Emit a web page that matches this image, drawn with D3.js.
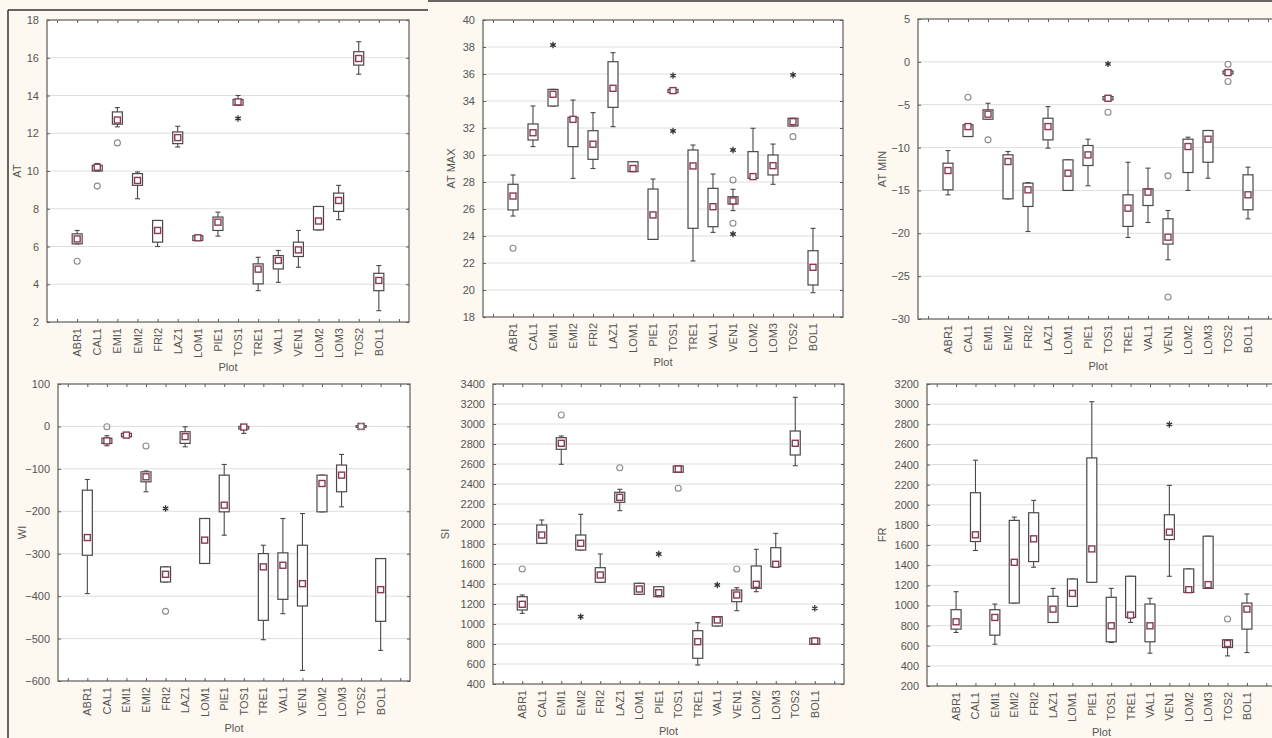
<!DOCTYPE html>
<html><head><meta charset="utf-8">
<script src="https://cdn.jsdelivr.net/npm/d3@7"></script>
<style>
body{margin:0;background:#fdf9f0;}
svg{display:block;}
text{font-family:"Liberation Sans",Arial,sans-serif;}
</style>
</head><body>
<svg id="chart" width="1272" height="738"></svg>
<script>
// ---------- DATA ----------
const plots = ["ABR1","CAL1","EMI1","EMI2","FRI2","LAZ1","LOM1","PIE1","TOS1","TRE1","VAL1","VEN1","LOM2","LOM3","TOS2","BOL1"];

// Panel: AT
const atMed = [6.4,10.2,12.7,9.5,6.85,11.77,6.46,7.29,13.66,4.8,5.26,5.82,7.35,8.44,15.96,4.2];
const atQ1  = [6.14,10.0,12.48,9.24,6.23,11.45,6.32,6.85,13.49,4.02,4.81,5.47,6.88,7.86,15.61,3.66];
const atQ3  = [6.67,10.3,13.13,9.86,7.38,12.07,6.57,7.56,13.79,5.08,5.52,6.23,8.12,8.83,16.32,4.58];
const atLo  = [6.14,10.0,12.34,8.53,6.0,11.27,6.32,6.55,13.49,3.66,4.1,4.9,6.88,7.42,15.13,2.6];
const atHi  = [6.85,10.4,13.36,9.95,7.38,12.37,6.57,7.82,14.0,5.43,5.79,6.85,8.12,9.24,16.85,4.99];
const atOut = [[0,5.22],[1,9.2],[2,11.49]];
const atExt = [[8,12.78]];
const atTicks = [2,4,6,8,10,12,14,16,18];

// Panel: AT MAX
const maxMed = [26.96,31.65,34.5,32.64,30.8,34.94,29.0,25.56,34.77,29.19,26.17,26.6,28.4,29.21,32.47,21.68];
const maxQ1  = [25.93,31.11,33.63,30.62,29.68,33.53,28.77,23.75,34.62,24.57,24.69,26.37,28.27,28.52,32.15,20.37];
const maxQ3  = [27.83,32.3,34.86,32.79,31.8,36.91,29.5,27.48,34.86,30.37,27.53,26.91,30.25,30.0,32.72,22.91];
const maxLo  = [25.48,30.62,33.63,28.27,29.0,32.1,28.77,23.75,34.62,22.15,24.27,25.88,28.27,27.83,32.15,19.8];
const maxHi  = [28.52,33.63,34.86,34.07,33.14,37.58,29.5,28.22,34.86,30.74,28.59,27.46,31.98,30.81,32.72,24.57];
const maxOut = [[0,23.09],[11,28.15],[11,24.94],[14,31.36]];
const maxExt = [[2,38.15],[8,35.88],[8,31.78],[11,30.37],[11,24.15],[14,35.93]];
const maxTicks = [18,20,22,24,26,28,30,32,34,36,38,40];

// Panel: AT MIN
const minMed = [-12.68,-7.55,-6.1,-11.63,-14.93,-7.55,-12.99,-10.85,-4.25,-17.07,-15.2,-20.45,-9.88,-9.02,-1.25,-15.51];
const minQ1  = [-14.93,-8.71,-6.69,-15.98,-16.87,-9.1,-15.0,-12.09,-4.44,-19.2,-16.76,-21.26,-12.91,-11.71,-1.41,-17.26];
const minQ3  = [-11.82,-7.35,-5.6,-10.85,-14.15,-6.58,-11.43,-9.76,-4.05,-15.51,-14.81,-18.31,-9.02,-8.01,-1.06,-13.18];
const minLo  = [-15.51,-8.71,-6.69,-15.98,-19.79,-10.07,-15.0,-14.46,-4.44,-20.49,-18.74,-23.09,-15.0,-13.57,-1.41,-18.31];
const minHi  = [-10.35,-7.35,-4.83,-10.46,-14.08,-5.22,-11.43,-9.02,-4.05,-11.71,-12.4,-17.34,-8.79,-8.01,-1.06,-12.29];
const minOut = [[1,-4.13],[2,-9.1],[8,-5.88],[11,-13.3],[11,-27.44],[14,-0.28],[14,-2.3]];
const minExt = [[8,-0.24]];
const minTicks = [-30,-25,-20,-15,-10,-5,0,5];

// Panel: WI
const wiMed = [-261.9,-34,-20.4,-118.7,-348.5,-24,-268,-185.6,-1.5,-331,-327.2,-370.5,-134.5,-114.8,0,-384.7];
const wiQ1  = [-303.6,-40,-24.3,-130.5,-366.6,-40,-323,-201.3,-6,-457,-407.5,-423.2,-201.3,-154,-2,-459.4];
const wiQ3  = [-150.2,-28,-16.4,-107,-331,-12.5,-217,-114.8,0,-299.7,-298,-280,-114.8,-91,2,-311.5];
const wiLo  = [-394,-45.6,-24.3,-154,-366.6,-48,-323,-256.4,-16.4,-502.7,-441.3,-575,-201.3,-189.5,-2,-527.8];
const wiHi  = [-125,-22,-16.4,-105,-331,-0.7,-217,-89.6,0,-280,-217,-205.3,-114.8,-66,2,-311.5];
const wiOut = [[1,-0.7],[3,-46],[4,-435.8],[14,0]];
const wiExt = [[4,-193.5]];
const wiTicks = [-600,-500,-400,-300,-200,-100,0,100];

// Panel: SI
const siMed = [1197,1890,2807,1807,1490,2267,1350,1313,2550,823,1040,1290,1397,1597,2807,830];
const siQ1  = [1140,1807,2747,1740,1417,2217,1297,1273,2517,657,980,1223,1357,1573,2690,797];
const siQ3  = [1273,1990,2863,1890,1563,2317,1407,1373,2580,933,1073,1340,1580,1763,2930,857];
const siLo  = [1107,1807,2597,1740,1417,2133,1297,1273,2517,590,980,1133,1323,1573,2583,797];
const siHi  = [1290,2040,2880,2097,1700,2347,1407,1373,2580,1013,1073,1363,1747,1907,3267,857];
const siOut = [[0,1550],[2,3090],[5,2563],[8,2357],[11,1550]];
const siExt = [[3,1073],[7,1700],[10,1390],[15,1157]];
const siTicks = [400,600,800,1000,1200,1400,1600,1800,2000,2200,2400,2600,2800,3000,3200,3400];

// Panel: FR
const frMed = [838,1702,881,1429,1662,964,1120,1562,798,904,798,1728,1157,1207,622,964];
const frQ1  = [765,1635,705,1024,1436,831,991,1230,639,881,639,1655,1130,1170,582,765];
const frQ3  = [958,2120,958,1845,1921,1091,1263,2466,1081,1290,1014,1901,1363,1688,659,1024];
const frLo  = [732,1546,615,1024,1380,831,991,1230,632,831,526,1290,1130,1170,499,532];
const frHi  = [1137,2443,1014,1878,2044,1170,1263,3024,1170,1290,1071,2193,1363,1688,659,1114];
const frOut = [[14,865]];
const frExt = [[11,2798]];
const frTicks = [200,400,600,800,1000,1200,1400,1600,1800,2000,2200,2400,2600,2800,3000,3200];

// ---------- LAYOUT ----------
const panels = [
  {yTitle:"AT",     med:atMed,  q1:atQ1,  q3:atQ3,  lo:atLo,  hi:atHi,  out:atOut,  ext:atExt,  ticks:atTicks,
   l:47,  r:409,  t:20,  b:322, ytx:17,  xtY:371},
  {yTitle:"AT MAX", med:maxMed, q1:maxQ1, q3:maxQ3, lo:maxLo, hi:maxHi, out:maxOut, ext:maxExt, ticks:maxTicks,
   l:483, r:843,  t:20,  b:317, ytx:451, xtY:366},
  {yTitle:"AT MIN", med:minMed, q1:minQ1, q3:minQ3, lo:minLo, hi:minHi, out:minOut, ext:minExt, ticks:minTicks,
   l:918, r:1278, t:19,  b:319, ytx:882, xtY:370},
  {yTitle:"WI",     med:wiMed,  q1:wiQ1,  q3:wiQ3,  lo:wiLo,  hi:wiHi,  out:wiOut,  ext:wiExt,  ticks:wiTicks,
   l:58,  r:410,  t:384, b:681, ytx:22,  xtY:732},
  {yTitle:"SI",     med:siMed,  q1:siQ1,  q3:siQ3,  lo:siLo,  hi:siHi,  out:siOut,  ext:siExt,  ticks:siTicks,
   l:493, r:844,  t:384, b:684, ytx:445, xtY:735},
  {yTitle:"FR",     med:frMed,  q1:frQ1,  q3:frQ3,  lo:frLo,  hi:frHi,  out:frOut,  ext:frExt,  ticks:frTicks,
   l:927, r:1276, t:384, b:686, ytx:882, xtY:736}
];

const svg = d3.select("#chart");
svg.append("rect").attr("width",1272).attr("height",738).attr("fill","#fdf9f0");

const axisCol = "#5c5c5c", textCol = "#555555", gridCol = "#dedede";
const boxCol = "#4e4649", medCol = "#8a3a55", outCol = "#8a8a8a", extCol = "#333";
const fs = 11;

panels.forEach(p => {
  const g = svg.append("g");
  const x = d3.scaleLinear().domain([-1.5, 16.5]).range([p.l, p.r]);
  const y = d3.scaleLinear().domain(d3.extent(p.ticks)).range([p.b, p.t]);

  g.append("rect").attr("x",p.l).attr("y",p.t).attr("width",p.r-p.l).attr("height",p.b-p.t).attr("fill","#fff");

  // gridlines
  g.selectAll(".grid").data(p.ticks.slice(1,-1)).join("line")
    .attr("x1",p.l).attr("x2",p.r).attr("y1",d=>y(d)).attr("y2",d=>y(d))
    .attr("stroke",gridCol).attr("stroke-width",1);

  // y axis (left) with labels, inward ticks
  const yAxis = d3.axisLeft(y).tickValues(p.ticks).tickSize(-3).tickPadding(8).tickFormat(d3.format("d"));
  const ya = g.append("g").attr("transform",`translate(${p.l},0)`).call(yAxis);
  ya.attr("font-family",null).attr("font-size",null);
  ya.select(".domain").remove();
  ya.selectAll("line").attr("stroke",axisCol);
  ya.selectAll("text").attr("fill",textCol).attr("font-size",fs);
  // right ticks
  const yr = g.append("g").attr("transform",`translate(${p.r},0)`).call(d3.axisRight(y).tickValues(p.ticks).tickSize(-3).tickFormat(""));
  yr.select(".domain").remove(); yr.selectAll("line").attr("stroke",axisCol);

  // x axis ticks at top and bottom
  const xt = d3.range(-1,17);
  const xb = g.append("g").attr("transform",`translate(0,${p.b})`).call(d3.axisBottom(x).tickValues(xt).tickSize(-3).tickFormat(""));
  xb.select(".domain").remove(); xb.selectAll("line").attr("stroke",axisCol);
  const xtp = g.append("g").attr("transform",`translate(0,${p.t})`).call(d3.axisTop(x).tickValues(xt).tickSize(-3).tickFormat(""));
  xtp.select(".domain").remove(); xtp.selectAll("line").attr("stroke",axisCol);

  // category labels
  g.selectAll(".cat").data(plots).join("text")
    .attr("transform",(d,i)=>`translate(${x(i)+4},${p.b+6}) rotate(-90)`)
    .attr("text-anchor","end").attr("font-size",fs).attr("fill",textCol).text(d=>d);

  // frame
  g.append("rect").attr("x",p.l).attr("y",p.t).attr("width",p.r-p.l).attr("height",p.b-p.t)
    .attr("fill","none").attr("stroke",axisCol).attr("stroke-width",1.2);

  // titles
  g.append("text").attr("transform",`translate(${p.ytx+4},${(p.t+p.b)/2}) rotate(-90)`)
    .attr("text-anchor","middle").attr("font-size",fs).attr("fill",textCol).text(p.yTitle);
  g.append("text").attr("x",(x(0)+x(15))/2).attr("y",p.xtY).attr("text-anchor","middle")
    .attr("font-size",fs).attr("fill",textCol).text("Plot");

  // boxes
  const bw = 10, cw = 5;
  const idx = d3.range(plots.length);
  const bg = g.append("g");
  bg.selectAll(".wh").data(idx).join("line")
    .attr("x1",i=>x(i)).attr("x2",i=>x(i)).attr("y1",i=>y(p.hi[i])).attr("y2",i=>y(p.lo[i]))
    .attr("stroke",boxCol).attr("stroke-width",1.1);
  bg.selectAll(".capH").data(idx).join("line")
    .attr("x1",i=>x(i)-cw/2).attr("x2",i=>x(i)+cw/2).attr("y1",i=>y(p.hi[i])).attr("y2",i=>y(p.hi[i]))
    .attr("stroke",boxCol).attr("stroke-width",1.1);
  bg.selectAll(".capL").data(idx).join("line")
    .attr("x1",i=>x(i)-cw/2).attr("x2",i=>x(i)+cw/2).attr("y1",i=>y(p.lo[i])).attr("y2",i=>y(p.lo[i]))
    .attr("stroke",boxCol).attr("stroke-width",1.1);
  bg.selectAll(".bx").data(idx).join("rect")
    .attr("x",i=>x(i)-bw/2).attr("width",bw)
    .attr("y",i=>y(p.q3[i])).attr("height",i=>Math.max(1,y(p.q1[i])-y(p.q3[i])))
    .attr("fill","#fff").attr("stroke",boxCol).attr("stroke-width",1.2);
  bg.selectAll(".md").data(idx).join("rect")
    .attr("x",i=>x(i)-3).attr("y",i=>y(p.med[i])-3).attr("width",6).attr("height",6)
    .attr("fill","#fff").attr("stroke",medCol).attr("stroke-width",1.4);

  // outliers
  bg.selectAll(".ol").data(p.out).join("circle")
    .attr("cx",d=>x(d[0])).attr("cy",d=>y(d[1])).attr("r",3)
    .attr("fill","none").attr("stroke",outCol).attr("stroke-width",1.1);
  const star = d3.symbol().type(d3.symbolAsterisk || d3.symbolCross).size(28);
  bg.selectAll(".ex").data(p.ext).join("path")
    .attr("transform",d=>`translate(${x(d[0])},${y(d[1])})`).attr("d",star)
    .attr("fill",extCol).attr("stroke",extCol).attr("stroke-width",1.3);
});

// scan frame lines
svg.append("line").attr("x1",8).attr("x2",8).attr("y1",10).attr("y2",738).attr("stroke","#333").attr("stroke-width",1.5);
svg.append("line").attr("x1",8).attr("x2",428).attr("y1",10).attr("y2",10).attr("stroke","#333").attr("stroke-width",1.5);
svg.append("line").attr("x1",428).attr("x2",1272).attr("y1",1).attr("y2",1).attr("stroke","#333").attr("stroke-width",1.5);
</script>
</body></html>
